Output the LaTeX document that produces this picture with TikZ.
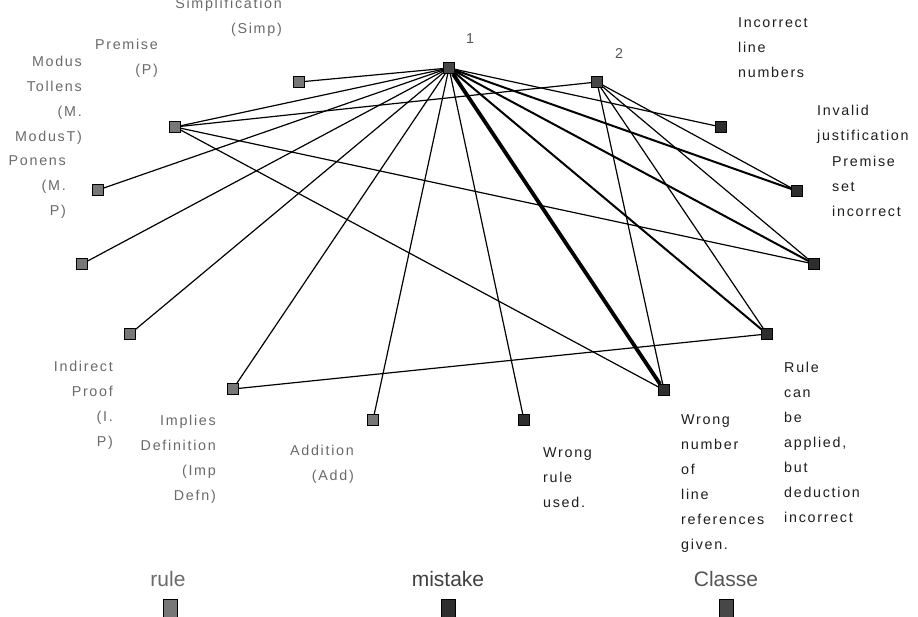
\documentclass[tikz,border=0pt]{standalone}
\usepackage{fontspec}
\setmainfont{Liberation Sans}
\newfontfamily\lblfont[LetterSpace=12]{Liberation Sans}
\definecolor{rulefill}{HTML}{777777}
\definecolor{mistfill}{HTML}{2E2E2E}
\definecolor{clsfill}{HTML}{474747}
\definecolor{ruletext}{HTML}{6A6A6A}
\definecolor{misttext}{HTML}{1E1E1E}
\definecolor{clstext}{HTML}{555555}
\begin{document}
\begin{tikzpicture}[x=1pt,y=-1pt,
  sq/.style={draw=black, line width=0.7pt, minimum size=11pt, inner sep=0pt, rectangle},
  rulesq/.style={sq, fill=rulefill},
  mistsq/.style={sq, fill=mistfill},
  clssq/.style={sq, fill=clsfill},
  lbl/.style={font=\lblfont\fontsize{14.3}{25}\selectfont, inner sep=0pt},
  rlbl/.style={lbl, text=ruletext, align=right, anchor=base east},
  mlbl/.style={lbl, text=misttext, align=left, anchor=base west},
  clbl/.style={lbl, text=clstext, anchor=base},
  lnk/.style={line width=1.2pt},
  lnkm/.style={line width=2pt},
  lnkt/.style={line width=3.8pt},
  leg/.style={font=\fontsize{21}{24}\selectfont, inner sep=0pt, anchor=base},
  legsq/.style={draw=black, line width=0.7pt, minimum width=14pt, minimum height=24pt, inner sep=0pt},
]
\useasboundingbox (0,0) rectangle (918,617);
\clip (0,0) rectangle (918,617);
\fill[white] (0,0) rectangle (918,617);

% class nodes
\node[clssq] (c1) at (449,68) {};
\node[clssq] (c2) at (597,82) {};
% rule nodes
\node[rulesq] (rSimp) at (299,82) {};
\node[rulesq] (rP) at (175,127) {};
\node[rulesq] (rMT) at (98,190) {};
\node[rulesq] (rMP) at (82,264) {};
\node[rulesq] (rIP) at (130,334) {};
\node[rulesq] (rImp) at (233,389) {};
\node[rulesq] (rAdd) at (373,420) {};
% mistake nodes
\node[mistsq] (mRule) at (524,420) {};
\node[mistsq] (mNum) at (664,390) {};
\node[mistsq] (mDed) at (767,334) {};
\node[mistsq] (mPrem) at (814,264) {};
\node[mistsq] (mJust) at (797,191) {};
\node[mistsq] (mLine) at (721,127) {};

% edges
\foreach \n in {rSimp,rP,rMT,rMP,rIP,rImp,rAdd,mRule,mLine}
  \draw[lnk] (c1) -- (\n);
\draw[lnkt] (c1) -- (mNum);
\draw[lnkm] (c1) -- (mDed);
\draw[lnkm] (c1) -- (mPrem);
\draw[lnkm] (c1) -- (mJust);
\foreach \n in {rP,mJust,mPrem,mDed,mNum}
  \draw[lnk] (c2) -- (\n);
\draw[lnk] (rP) -- (mPrem);
\draw[lnk] (rP) -- (mNum);
\draw[lnk] (rImp) -- (mDed);

% labels (anchor = baseline of last line)
\node[clbl] (l1) at (470,44) {1};
\node[clbl] (l2) at (619,59) {2};
\node[rlbl] (lSimp) at (282,34) {Simplification\\(Simp)};
\node[rlbl] (lP) at (158,75) {Premise\\(P)};
\node[rlbl] (lMT) at (82,142) {Modus\\Tollens\\(M.\\ModusT)};
\node[rlbl] (lMP) at (66,216) {Ponens\\(M.\\P)};
\node[rlbl] (lIP) at (113,446) {Indirect\\Proof\\(I.\\P)};
\node[rlbl] (lImp) at (216,500) {Implies\\Definition\\(Imp\\Defn)};
\node[rlbl] (lAdd) at (354,480) {Addition\\(Add)};
\node[mlbl] (lRule) at (543,507) {Wrong\\rule\\used.};
\node[mlbl] (lNum) at (681,549) {Wrong\\number\\of\\line\\references\\given.};
\node[mlbl] (lDed) at (784,522) {Rule\\can\\be\\applied,\\but\\deduction\\incorrect};
\node[mlbl] (lLine) at (738,78) {Incorrect\\line\\numbers};
\node[mlbl] (lJust) at (817,141) {Invalid\\justification};
\node[mlbl] (lPrem) at (832,217) {Premise\\set\\incorrect};

% legend
\node[leg, text=ruletext] (legRuleT) at (168,586) {rule};
\node[leg, text=misttext!85!white] (legMistT) at (448,586) {mistake};
\node[leg, text=clstext] (legClsT) at (726,586) {Classe};
\node[legsq, fill=rulefill, anchor=north] (legRule) at (170,599) {};
\node[legsq, fill=mistfill, anchor=north] (legMist) at (448,599) {};
\node[legsq, fill=clsfill, anchor=north] (legCls) at (726,599) {};
\end{tikzpicture}
\end{document}
